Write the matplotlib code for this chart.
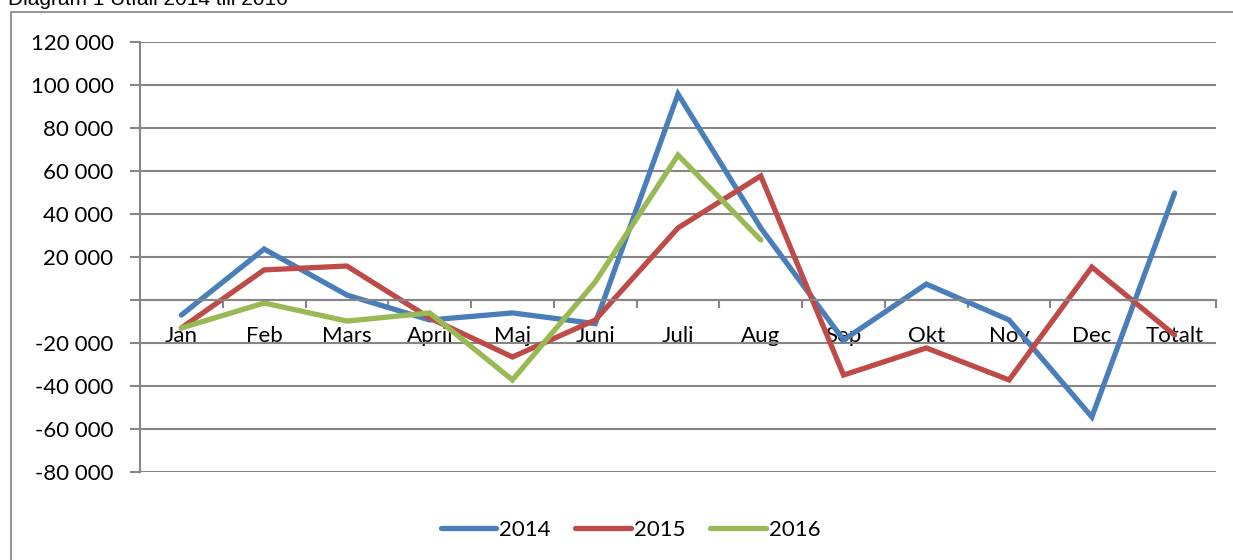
import numpy as np
import matplotlib.pyplot as plt
from matplotlib.patches import Rectangle
from matplotlib.ticker import FuncFormatter

months = ["Jan", "Feb", "Mars", "April", "Maj", "Juni", "Juli", "Aug",
          "Sep", "Okt", "Nov", "Dec", "Totalt"]

v2014 = [-7000, 23700, 2300, -9300, -6000, -11000, 95800, 33500,
         -18600, 7400, -9300, -54400, 49800]
v2015 = [-13000, 14000, 15800, -8400, -26500, -9300, 33500, 57700,
         -34900, -22300, -37200, 15300, -16300]
v2016 = [-13000, -1400, -9800, -6000, -37200, 8400, 67400, 27900]

colors = {"2014": "#4A7EBB", "2015": "#BE4B48", "2016": "#98B954"}
grid_c = "#868686"
fs = 16

plt.rcParams['font.family'] = ['Lato', 'DejaVu Sans']

fig = plt.figure(figsize=(12.33, 5.6), dpi=100)
W, H = 1233, 560
ax = fig.add_axes([140 / W, 88 / H, (1216 - 140) / W, (472 - 42) / H])

# outer frame and title
fig.patches.append(Rectangle((11 / W, -0.05), 1.1, 1 - 12 / H + 0.05,
                             transform=fig.transFigure, fill=False,
                             edgecolor="#8c8c8c", linewidth=1.3))
fig.text(8 / W, 1 - 5 / H, "Diagram 1 Utfall 2014 till 2016",
         family="Liberation Sans", fontsize=15, va="baseline")

x = np.arange(len(months))
lw = 3.8
ax.plot(x, v2014, color=colors["2014"], lw=lw, label="2014",
        solid_capstyle="round", solid_joinstyle="miter")
ax.plot(x, v2015, color=colors["2015"], lw=lw, label="2015",
        solid_capstyle="round", solid_joinstyle="miter")
ax.plot(x[:len(v2016)], v2016, color=colors["2016"], lw=lw, label="2016",
        solid_capstyle="round", solid_joinstyle="miter")

ax.set_xlim(-0.5, len(months) - 0.5)
ax.set_ylim(-80000, 120000)
yt = np.arange(-80000, 120001, 20000)
ax.set_yticks(yt)
ax.yaxis.set_major_formatter(FuncFormatter(
    lambda v, p: "" if v == 0 else f"{int(v):,}".replace(",", " ")))
ax.grid(axis="y", color=grid_c, lw=1.5)
ax.set_axisbelow(True)

for s in ["top", "right"]:
    ax.spines[s].set_visible(False)
ax.spines["left"].set_color(grid_c)
ax.spines["left"].set_linewidth(1.5)
ax.spines["bottom"].set_position(("data", 0))
ax.spines["bottom"].set_color(grid_c)
ax.spines["bottom"].set_linewidth(1.5)

ax.set_xticks(x)
ax.set_xticklabels(months)
ax.set_xticks(np.arange(-0.5, len(months), 1.0), minor=True)
ax.tick_params(axis="x", which="major", length=0, pad=19, labelsize=fs)
ax.tick_params(axis="x", which="minor", length=6, width=1.5, color=grid_c)
ax.tick_params(axis="y", length=7, width=1.5, color=grid_c, labelsize=fs, pad=12)

ax.legend(loc="upper center", bbox_to_anchor=(0.456, -0.065), ncol=3,
          frameon=False, fontsize=fs, handlelength=2.5, handletextpad=0.15,
          columnspacing=1.1)

fig.savefig("out.png", dpi=100)
